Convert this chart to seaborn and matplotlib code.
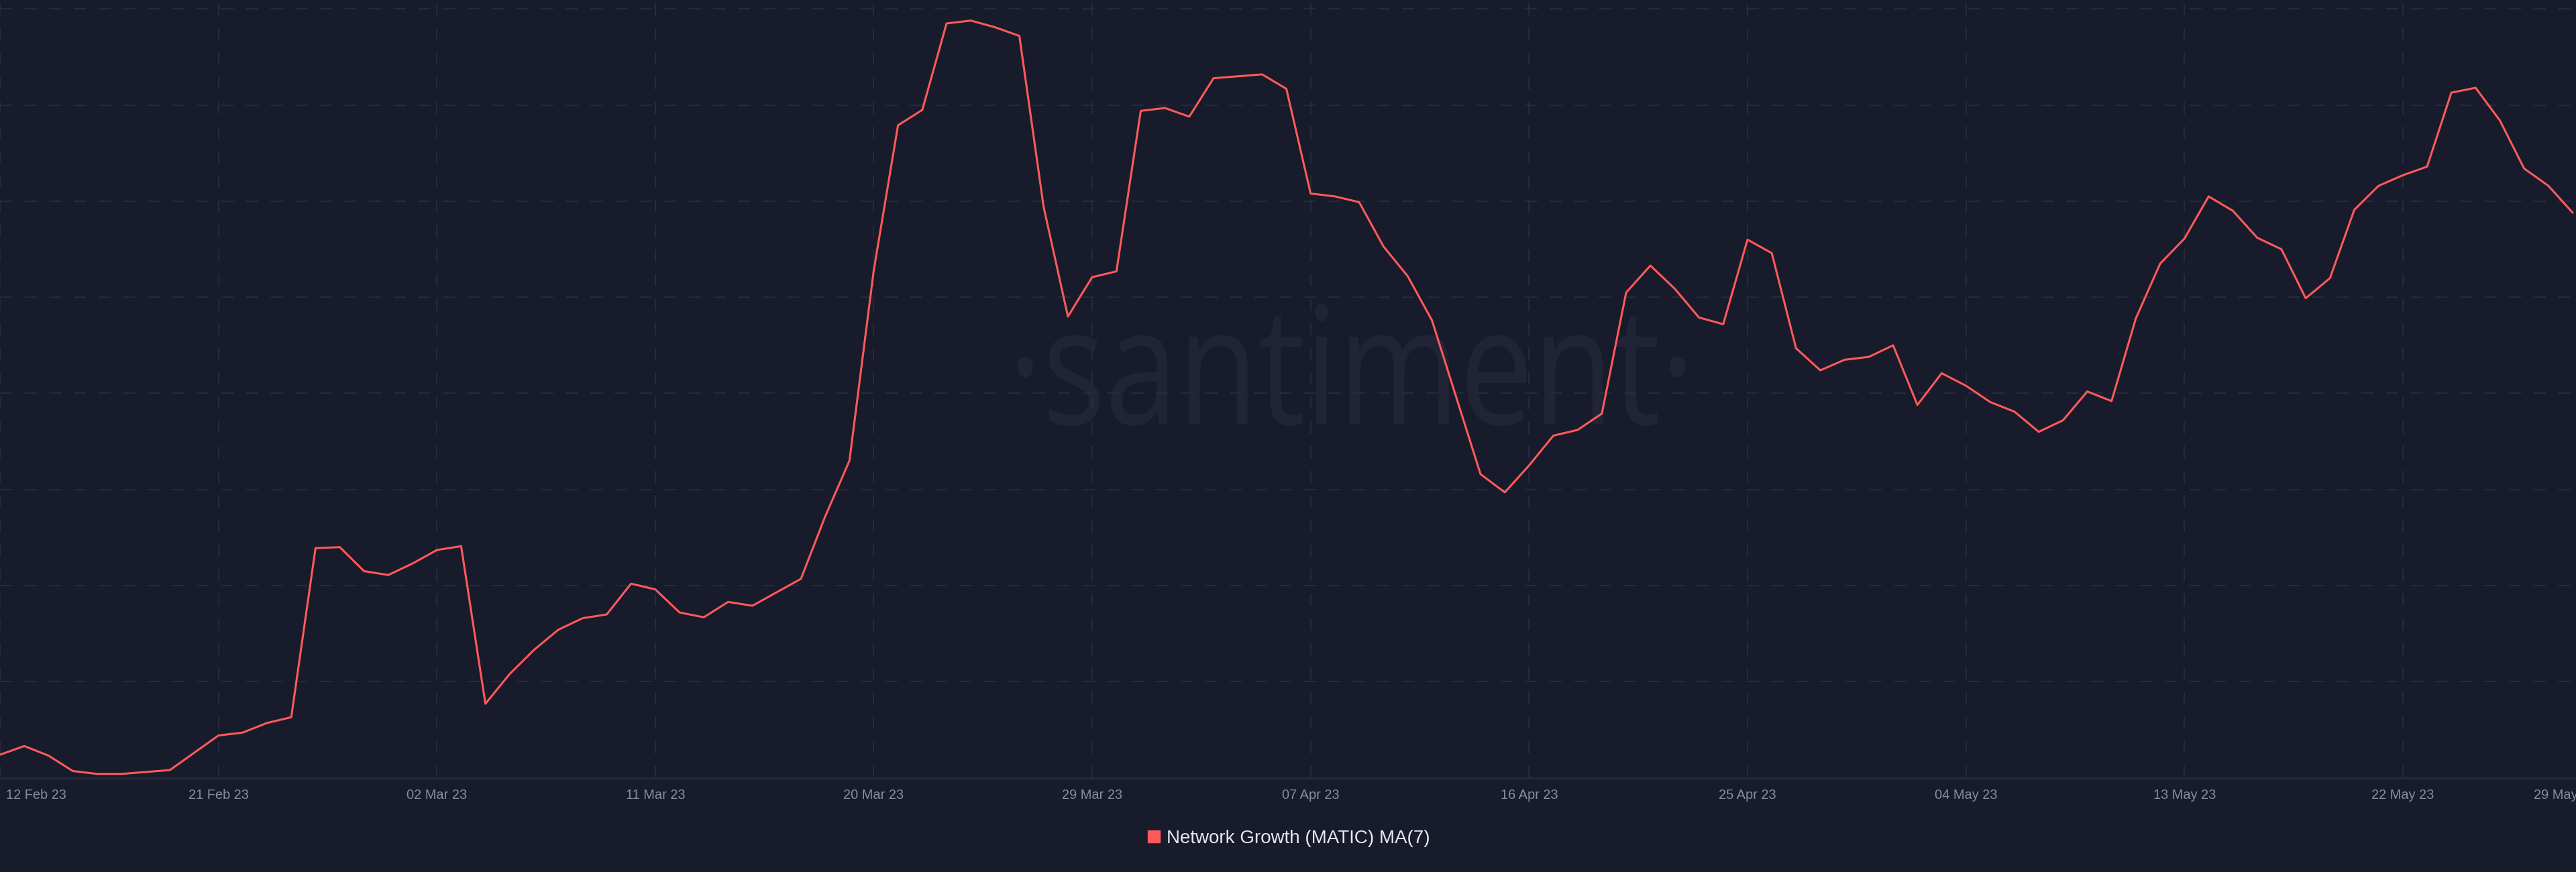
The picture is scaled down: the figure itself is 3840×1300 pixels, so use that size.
import numpy as np
import pandas as pd
import matplotlib
matplotlib.use("Agg")
import matplotlib.pyplot as plt
import matplotlib.dates as mdates
import seaborn as sns
from matplotlib.textpath import TextPath
from matplotlib.patches import PathPatch
from matplotlib.font_manager import FontProperties
from matplotlib.transforms import Affine2D, IdentityTransform, ScaledTranslation
from matplotlib.lines import Line2D

# ---------------- data ----------------
start_date = "2023-02-12"
n_days = 107
series_name = "Network Growth (MATIC) MA(7)"
network_growth_ma7 = [
    24, 33, 23, 7, 4, 4, 6, 8, 26, 44,
    47, 57, 63, 239, 240, 215, 211, 223, 237, 241,
    77, 108, 133, 154, 166, 170, 202, 196, 172, 167,
    183, 179, 193, 207, 272, 330, 528, 679, 695, 785,
    788, 781, 772, 594, 480, 521, 527, 694, 697, 688,
    728, 730, 732, 717, 608, 605, 599, 553, 522, 476,
    396, 316, 297, 325, 356, 362, 379, 505, 533, 509,
    479, 472, 560, 546, 447, 424, 435, 438, 450, 388,
    421, 408, 391, 381, 360, 372, 402, 392, 478, 535,
    561, 605, 590, 562, 550, 499, 520, 591, 616, 627,
    636, 713, 718, 684, 634, 616, 588,
]
tick_dates = ["2023-02-12", "2023-02-21", "2023-03-02", "2023-03-11", "2023-03-20",
              "2023-03-29", "2023-04-07", "2023-04-16", "2023-04-25", "2023-05-04",
              "2023-05-13", "2023-05-22", "2023-05-29"]
tick_labels = ["12 Feb 23", "21 Feb 23", "02 Mar 23", "11 Mar 23", "20 Mar 23",
               "29 Mar 23", "07 Apr 23", "16 Apr 23", "25 Apr 23", "04 May 23",
               "13 May 23", "22 May 23", "29 May 23"]
grid_dates = tick_dates[:-1]
y_grid = [100, 200, 300, 400, 500, 600, 700, 800]

df = pd.DataFrame({
    "date": pd.date_range(start_date, periods=n_days, freq="D"),
    "value": network_growth_ma7,
})

# ---------------- style ----------------
BG = "#181b2b"
GRID = "#2a2e40"
LINE = "#ff5a5a"
TICK = "#858ca3"
WM = "#212437"

sns.set_theme(style="dark")
plt.rcParams["font.family"] = ["Liberation Sans", "DejaVu Sans"]

W, H, DPI = 3840, 1300, 100
fig = plt.figure(figsize=(W / DPI, H / DPI), dpi=DPI, facecolor=BG)
ax_left_px, ax_bottom_px, ax_w_px, ax_h_px = 0, 140.5, 3838, 1159.5
ax = fig.add_axes([ax_left_px / W, ax_bottom_px / H, ax_w_px / W, ax_h_px / H])
ax.set_facecolor("none")

# watermark
tp = TextPath((0, 0), "·santiment·", size=100, prop=FontProperties(family="Open Sans"))
bb = tp.get_extents()
x0, x1, y0, y1 = 1517, 2512, 1300 - 635, 1300 - 453
tr = Affine2D().translate(-bb.x0, -bb.y0).scale((x1 - x0) / bb.width, (y1 - y0) / bb.height).translate(x0, y0)
wm = PathPatch(tr.transform_path(tp), transform=IdentityTransform(), facecolor=WM,
               edgecolor="none", zorder=-1)
fig.add_artist(wm)

sns.lineplot(data=df, x="date", y="value", ax=ax, color=LINE, linewidth=2.2, zorder=5, legend=False)

# limits
d0 = mdates.date2num(pd.Timestamp(start_date))
px_per_day = 36.18
ax.set_xlim(d0, d0 + ax_w_px / px_per_day)
ax.set_ylim(0, 809.4)

# grid lines
for g in y_grid:
    ax.axhline(g, color=GRID, lw=1.2, dashes=(11, 11), zorder=1)
for gd in grid_dates:
    ax.axvline(mdates.date2num(pd.Timestamp(gd)), color=GRID, lw=1.2, dashes=(11, 11), zorder=1)
ax.grid(False)

for s in ["top", "right", "left"]:
    ax.spines[s].set_visible(False)
ax.spines["bottom"].set_visible(True)
ax.spines["bottom"].set_color("#272a3b")
ax.spines["bottom"].set_linewidth(2.0)

ax.set_yticks([])
ax.set_xticks([mdates.date2num(pd.Timestamp(t)) for t in tick_dates])
ax.set_xticklabels(tick_labels)
ax.tick_params(axis="x", length=0, pad=12, labelsize=14.4, labelcolor=TICK)
ax.set_xlabel("")
ax.set_ylabel("")

labels = ax.get_xticklabels()
labels[0].set_horizontalalignment("left")
labels[0].set_transform(labels[0].get_transform() + ScaledTranslation(9 / DPI, 0, fig.dpi_scale_trans))
labels[-1].set_transform(labels[-1].get_transform() + ScaledTranslation(-11 / DPI, 0, fig.dpi_scale_trans))

# legend
handle = Line2D([], [], linestyle="none", marker="s", markersize=12.5,
                markerfacecolor=LINE, markeredgecolor=LINE)
fig.legend([handle], [series_name], loc="center", bbox_to_anchor=(0.5, 50 / H),
           frameon=False, fontsize=20, labelcolor="#e6e8ee", handletextpad=0.3,
           handlelength=0.8, borderaxespad=0)

fig.savefig("out.png", dpi=DPI, facecolor=BG)
